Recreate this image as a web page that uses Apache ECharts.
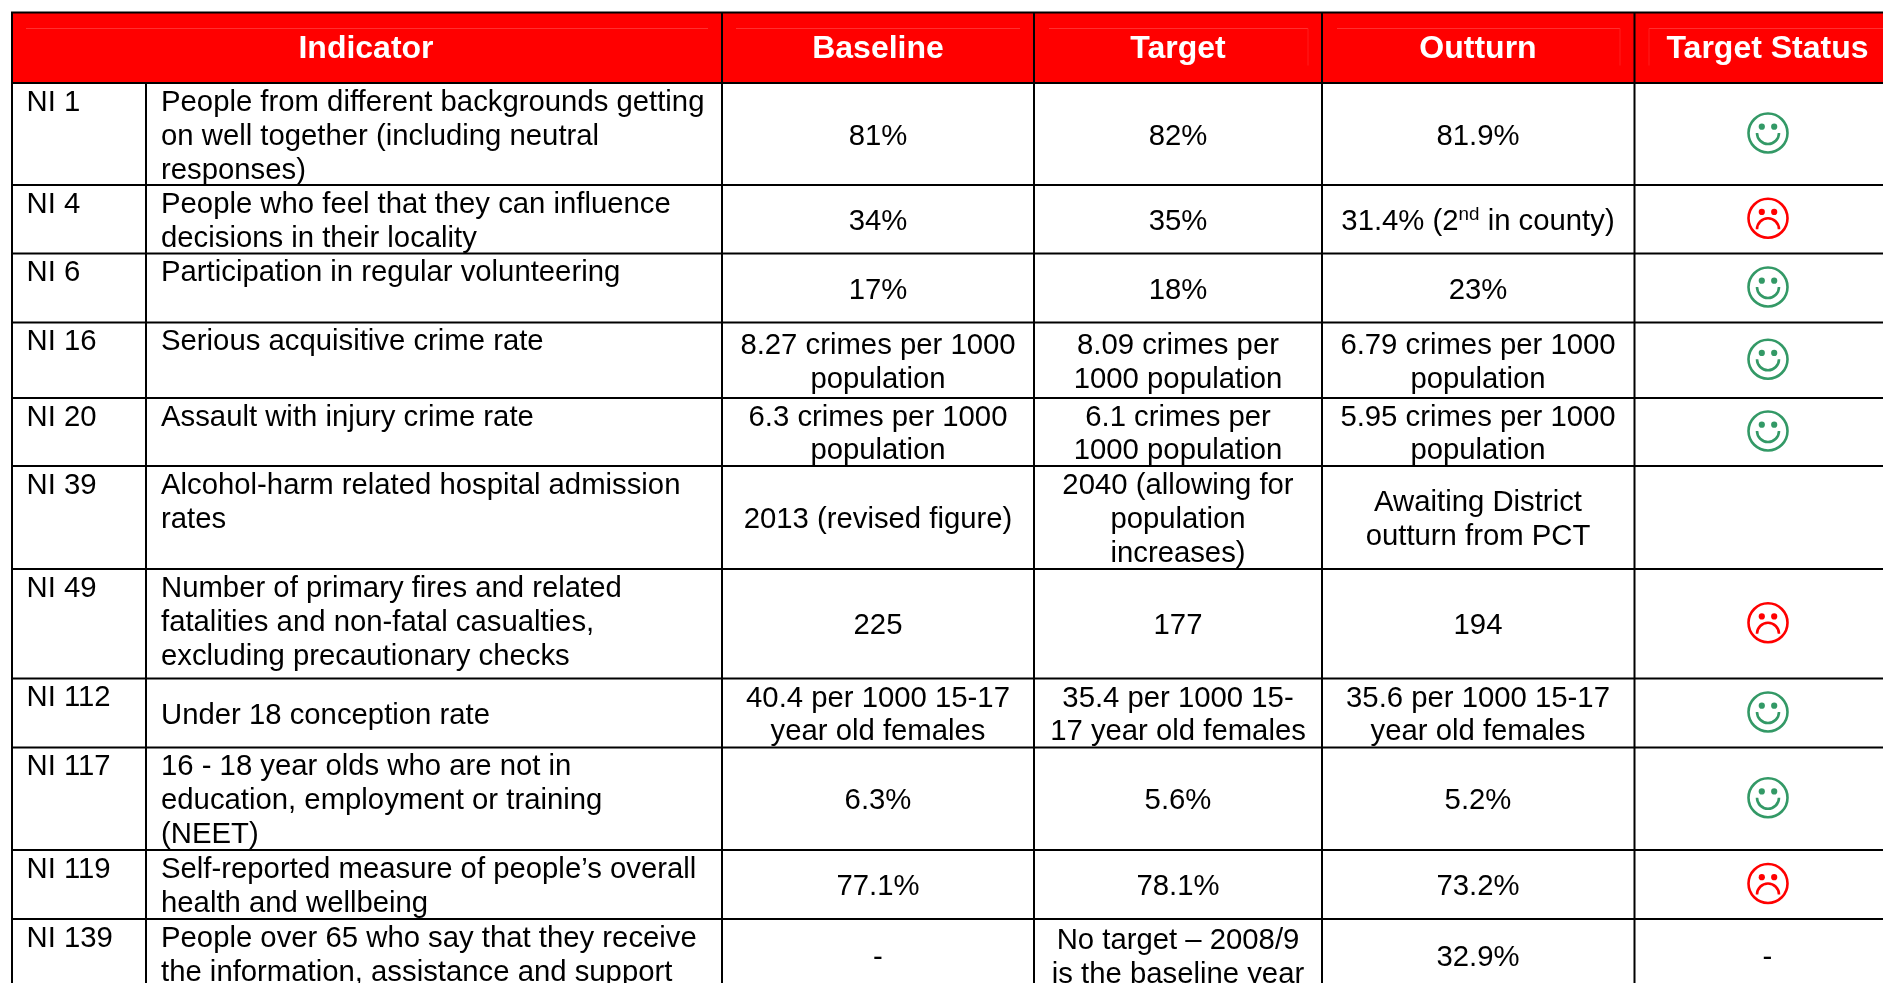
<!DOCTYPE html>
<html>
<head>
<meta charset="utf-8">
<title>National indicators</title>
<style>
  html, body { margin: 0; padding: 0; background: #fff; }
  #main { width: 1883px; height: 983px; }
</style>
<script src="https://cdn.jsdelivr.net/npm/echarts@6/dist/echarts.min.js"></script>
</head>
<body>
<div id="main"></div>
<script>
// table content
var headers = ['Indicator', 'Baseline', 'Target', 'Outturn', 'Target Status'];
var codes = ['NI 1', 'NI 4', 'NI 6', 'NI 16', 'NI 20', 'NI 39', 'NI 49', 'NI 112', 'NI 117', 'NI 119', 'NI 139'];
var descriptions = [
  'People from different backgrounds getting\non well together (including neutral\nresponses)',
  'People who feel that they can influence\ndecisions in their locality',
  'Participation in regular volunteering',
  'Serious acquisitive crime rate',
  'Assault with injury crime rate',
  'Alcohol-harm related hospital admission\nrates',
  'Number of primary fires and related\nfatalities and non-fatal casualties,\nexcluding precautionary checks',
  'Under 18 conception rate',
  '16 - 18 year olds who are not in\neducation, employment or training\n(NEET)',
  'Self-reported measure of people\u2019s overall\nhealth and wellbeing',
  'People over 65 who say that they receive\nthe information, assistance and support'
];
var baseline = ['81%', '34%', '17%', '8.27 crimes per 1000\npopulation', '6.3 crimes per 1000\npopulation',
  '2013 (revised figure)', '225', '40.4 per 1000 15-17\nyear old females', '6.3%', '77.1%', '-'];
var target = ['82%', '35%', '18%', '8.09 crimes per\n1000 population', '6.1 crimes per\n1000 population',
  '2040 (allowing for\npopulation\nincreases)', '177', '35.4 per 1000 15-\n17 year old females', '5.6%', '78.1%',
  'No target \u2013 2008/9\nis the baseline year'];
var outturn = ['81.9%', '31.4% (2{sup|nd} in county)', '23%', '6.79 crimes per 1000\npopulation', '5.95 crimes per 1000\npopulation',
  'Awaiting District\noutturn from PCT', '194', '35.6 per 1000 15-17\nyear old females', '5.2%', '73.2%', '32.9%'];
var targetStatus = ['good', 'bad', 'good', 'good', 'good', '', 'bad', 'good', 'good', 'bad', '-'];

// layout, in page pixels
var colEdges = [12, 146, 722, 1034, 1322, 1634.5, 1890];
var rowEdges = [12.5, 83, 185, 253.5, 322.5, 398, 466, 569, 678.5, 747.5, 850, 919, 992];
var colCentres = [878, 1178, 1478, 1767.5];
var descCentred = [7];
var FONT = '"Liberation Sans", Arial, sans-serif';
var BODY_SIZE = 29.3;
var HEAD_SIZE = 32;
var LINE_H = 33.8;
var GREEN = '#339966';
var RED = '#ff0000';

// grid lines: [x1, y1, x2, y2]
var rules = [];
rowEdges.forEach(function (y) { rules.push([colEdges[0] - 1, y, colEdges[6], y]); });
colEdges.slice(0, 6).forEach(function (x, i) {
  rules.push([x, i === 1 ? rowEdges[1] : rowEdges[0], x, rowEdges[12]]);
});

// faint lines inside the header cells
var headerTicks = [
  [26, 28, 708, 28], [736, 28, 1020, 28], [1049, 28, 1308, 28], [1337, 28, 1620, 28], [1649, 28, 1883, 28],
  [1308, 28, 1308, 65], [1620, 28, 1620, 65], [1649, 28, 1649, 65]
];

// text cells
var cells = [];
headers.forEach(function (h, i) {
  cells.push({ text: h, x: i === 0 ? 366 : colCentres[i - 1], y: 49.5, align: 'center', head: true });
});
codes.forEach(function (c, r) {
  var top = rowEdges[r + 1], mid = (top + rowEdges[r + 2]) / 2 + 2.5;
  cells.push({ text: c, x: 26.5, y: top + 3, align: 'left', anchor: 'top' });
  if (descCentred.indexOf(r) >= 0) {
    cells.push({ text: descriptions[r], x: 161, y: mid, align: 'left' });
  } else {
    cells.push({ text: descriptions[r], x: 161, y: top + 3, align: 'left', anchor: 'top' });
  }
  [baseline, target, outturn].forEach(function (col, k) {
    cells.push({ text: col[r], x: colCentres[k], y: mid, align: 'center' });
  });
  if (targetStatus[r] === '-') cells.push({ text: '-', x: colCentres[3], y: mid, align: 'center' });
});

// smiley faces
var faces = [];
targetStatus.forEach(function (s, r) {
  if (s === 'good' || s === 'bad') {
    faces.push({ mood: s, x: colCentres[3] + 0.5, y: (rowEdges[r + 1] + rowEdges[r + 2]) / 2 - 1 });
  }
});

function renderRule(params, api) {
  var a = api.coord([api.value(0), api.value(1)]);
  var b = api.coord([api.value(2), api.value(3)]);
  return {
    type: 'line',
    shape: { x1: a[0], y1: a[1], x2: b[0], y2: b[1] },
    style: { stroke: '#000', lineWidth: 2 }
  };
}

function renderTick(params, api) {
  var a = api.coord([api.value(0), api.value(1)]);
  var b = api.coord([api.value(2), api.value(3)]);
  return {
    type: 'line',
    shape: { x1: a[0], y1: a[1] + 0.5, x2: b[0], y2: b[1] + 0.5 },
    style: { stroke: a[0] === b[0] ? '#ff1c1c' : '#ff3030', lineWidth: 1 }
  };
}

function renderHeaderFill(params, api) {
  var a = api.coord([api.value(0), api.value(1)]);
  var b = api.coord([api.value(2), api.value(3)]);
  return {
    type: 'rect',
    shape: { x: a[0], y: a[1], width: b[0] - a[0], height: b[1] - a[1] },
    style: { fill: '#ff0000' }
  };
}

function renderCell(params, api) {
  var c = cells[params.dataIndex];
  var p = api.coord([c.x, c.y]);
  return {
    type: 'text',
    x: p[0],
    y: p[1],
    style: {
      text: c.text,
      align: c.align,
      verticalAlign: c.anchor || 'middle',
      lineHeight: c.head ? 36 : LINE_H,
      fontFamily: FONT,
      fontSize: c.head ? HEAD_SIZE : BODY_SIZE,
      fontWeight: c.head ? 'bold' : 'normal',
      fill: c.head ? '#fff' : '#000',
      rich: { sup: { fontSize: 18.8, fontFamily: FONT, fill: '#000', verticalAlign: 'top', lineHeight: LINE_H } }
    }
  };
}

function renderFace(params, api) {
  var f = faces[params.dataIndex];
  var p = api.coord([f.x, f.y]);
  var colour = f.mood === 'good' ? GREEN : RED;
  var mouth = f.mood === 'good'
    ? { type: 'arc', shape: { cx: p[0], cy: p[1], r: 11, startAngle: 0, endAngle: Math.PI, clockwise: true } }
    : { type: 'arc', shape: { cx: p[0], cy: p[1] + 11, r: 11, startAngle: Math.PI, endAngle: Math.PI * 2, clockwise: true } };
  mouth.style = { stroke: colour, fill: 'none', lineWidth: 2.6 };
  return {
    type: 'group',
    children: [
      { type: 'circle', shape: { cx: p[0], cy: p[1], r: 19.5 }, style: { stroke: colour, fill: 'none', lineWidth: 2.6 } },
      { type: 'circle', shape: { cx: p[0] - 6.2, cy: p[1] - 6.3, r: 3.1 }, style: { fill: colour } },
      { type: 'circle', shape: { cx: p[0] + 6.2, cy: p[1] - 6.3, r: 3.1 }, style: { fill: colour } },
      mouth
    ]
  };
}

function customSeries(render, data, z) {
  return {
    type: 'custom',
    coordinateSystem: 'cartesian2d',
    renderItem: render,
    data: data,
    clip: false,
    silent: true,
    animation: false,
    z: z
  };
}

var chart = echarts.init(document.getElementById('main'), null, { renderer: 'canvas' });
chart.setOption({
  animation: false,
  backgroundColor: '#fff',
  grid: { left: 0, right: 0, top: 0, bottom: 0 },
  xAxis: { type: 'value', min: 0, max: 1883, show: false },
  yAxis: { type: 'value', min: 0, max: 983, inverse: true, show: false },
  series: [
    customSeries(renderHeaderFill, [[colEdges[0], rowEdges[0], colEdges[6], rowEdges[1]]], 1),
    customSeries(renderTick, headerTicks, 2),
    customSeries(renderRule, rules, 3),
    customSeries(renderCell, cells.map(function (c, i) { return [c.x, c.y, i]; }), 4),
    customSeries(renderFace, faces.map(function (f, i) { return [f.x, f.y, i]; }), 4)
  ]
});
</script>
</body>
</html>
